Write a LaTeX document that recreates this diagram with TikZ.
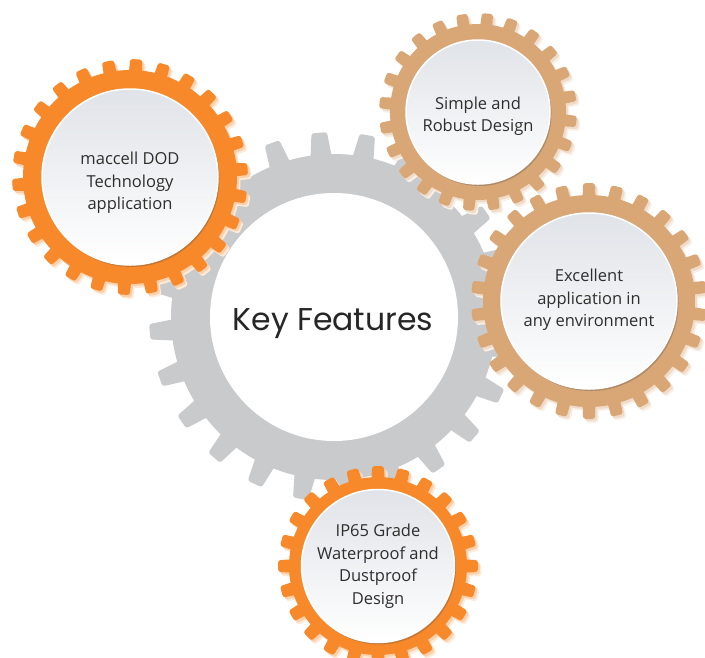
\documentclass[tikz,border=0pt]{standalone}
\usepackage{fontspec}
\setmainfont{Open Sans}
\newfontfamily\keyfont{Poppins}
\usepackage{tikz}
\usetikzlibrary{shadows,calc}
\definecolor{gearorange}{HTML}{F7892B}
\definecolor{geartan}{HTML}{D9A676}
\definecolor{geargrey}{HTML}{C9CACC}
\definecolor{discgrey}{HTML}{E0E3E8}
\definecolor{labeltext}{HTML}{2E2E2E}

% gear: centre, teeth, root radius, tip radius, base half-angle, tip half-angle, offset, fill
\newcommand{\drawgear}[8]{%
  \begin{scope}[shift={#1}]
    \fill[#8] (0,0) circle (#3);
    \foreach \k in {1,...,#2}{
      \pgfmathsetmacro{\a}{#7+360*\k/#2}
      \fill[#8, rounded corners=2.5pt] (\a-#5:#3-4) -- (\a-#6:#4) -- (\a+#6:#4) -- (\a+#5:#3-4) -- cycle;
    }
  \end{scope}}
% soft glow below a gear
\newcommand{\gearglow}[8]{%
  \drawgear{($#1+(3.5,4)$)}{#2}{#3}{#4}{#5}{#6}{#7}{#8!18}
  \drawgear{($#1+(2,2.2)$)}{#2}{#3}{#4}{#5}{#6}{#7}{#8!40}
  \drawgear{#1}{#2}{#3}{#4}{#5}{#6}{#7}{#8}}

\begin{document}
\begin{tikzpicture}[x=1pt, y=-1pt,
  disc/.style={circle, draw=white, line width=1.5pt, inner sep=0pt,
    top color=discgrey, bottom color=white,
    drop shadow={shadow xshift=1.5pt, shadow yshift=-2pt, opacity=.3, fill=black!70}},
  disctext/.style={align=center, text=labeltext, font=\fontsize{16.5}{22.5}\selectfont},
  keytext/.style={text=black!85, font=\keyfont\fontsize{31.5}{36}\selectfont}]
\useasboundingbox (0,0) rectangle (705,657);
\fill[white] (0,0) rectangle (705,657);

% Central gear
\drawgear{(334,317)}{24}{163}{185}{3.9}{2.4}{-94.6}{geargrey}
\node[circle, fill=white, minimum size=248pt, inner sep=0pt] (hub) at (334,317) {};
\node[keytext, anchor=base] (key) at (333,330) {Key Features};

% Top right gear
\gearglow{(478,112)}{24}{88}{99}{4.2}{3.2}{-84.5}{geartan}
\node[disc, minimum size=144pt] (robust) at (478,112) {};
\node[disctext] (robusttext) at ($(robust.center)+(0,4)$) {Simple and\\Robust Design};

% Right gear
\gearglow{(589,301)}{26}{106}{118}{3.6}{2.9}{-90}{geartan}
\node[disc, minimum size=176pt] (env) at (589,301) {};
\node[disctext] (envtext) at ($(env.center)+(0,-1)$) {Excellent\\application in\\any environment};

% Top left gear
\gearglow{(130,177)}{26}{107}{118}{3.7}{2.9}{-87}{gearorange}
\node[disc, minimum size=176pt] (dod) at (130,177) {};
\node[disctext] (dodtext) at ($(dod.center)+(0,6)$) {maccell DOD\\Technology\\application};

% Bottom gear
\gearglow{(378,566)}{24}{89}{100}{4.5}{3.4}{-90}{gearorange}
\node[disc, minimum size=153pt] (ip) at (378,566) {};
\node[disctext] (iptext) at (ip.center) {IP65 Grade\\Waterproof and\\Dustproof\\Design};
\end{tikzpicture}
\end{document}
